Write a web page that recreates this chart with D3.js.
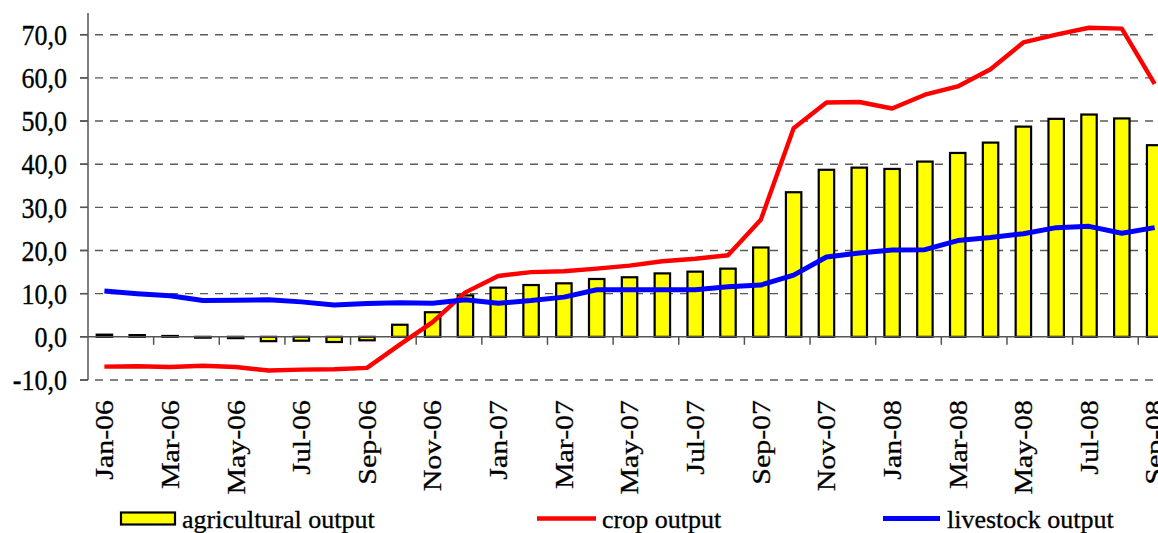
<!DOCTYPE html>
<html>
<head>
<meta charset="utf-8">
<script src="https://cdn.jsdelivr.net/npm/d3@7"></script>
<style>
  body { margin: 0; background: #fff; }
  svg { display: block; }
</style>
</head>
<body>
<svg id="chart" width="1158" height="533" font-family="Liberation Serif"></svg>
<script>
// months Jan-06 .. Sep-08
var months = ['Jan-06','Feb-06','Mar-06','Apr-06','May-06','Jun-06','Jul-06','Aug-06','Sep-06','Oct-06','Nov-06','Dec-06',
  'Jan-07','Feb-07','Mar-07','Apr-07','May-07','Jun-07','Jul-07','Aug-07','Sep-07','Oct-07','Nov-07','Dec-07',
  'Jan-08','Feb-08','Mar-08','Apr-08','May-08','Jun-08','Jul-08','Aug-08','Sep-08'];

var agricultural = [0.5, 0.4, 0.2, -0.2, -0.3, -1.0, -0.9, -1.2, -0.8, 2.8, 5.7, 9.6,
  11.4, 12.0, 12.4, 13.4, 13.8, 14.7, 15.1, 15.8, 20.7, 33.5, 38.7, 39.2,
  38.9, 40.6, 42.6, 45.0, 48.7, 50.5, 51.5, 50.6, 44.4];

var crop = [-6.9, -6.8, -7.0, -6.7, -7.0, -7.8, -7.6, -7.5, -7.2, -1.8, 3.4, 10.3,
  14.1, 15.0, 15.2, 15.8, 16.5, 17.5, 18.1, 18.9, 27.1, 48.3, 54.3, 54.4,
  52.9, 56.1, 58.0, 62.0, 68.2, 70.0, 71.6, 71.4, 58.6];

var livestock = [10.6, 10.0, 9.5, 8.4, 8.5, 8.6, 8.1, 7.4, 7.7, 7.9, 7.8, 8.6,
  7.8, 8.4, 9.2, 10.9, 10.9, 10.9, 10.9, 11.6, 12.0, 14.3, 18.5, 19.4,
  20.1, 20.2, 22.3, 23.0, 23.9, 25.3, 25.6, 24.0, 25.3];

var yTicks = [-10, 0, 10, 20, 30, 40, 50, 60, 70];
var legendLabels = ['agricultural output', 'crop output', 'livestock output'];

var FONT = "'Liberation Serif'";
var svg = d3.select('#chart');
var W = 1158;
var fmt = function(v) { return d3.format('.1f')(v).replace('.', ',').replace('\u2212', '-'); };
var stretch = 1.15;

var x = d3.scaleBand()
  .domain(months)
  .range([88, 88 + 33 * 32.82])
  .paddingInner(0.53)
  .paddingOuter(0.265);

var y = d3.scaleLinear()
  .domain([-10, 75])
  .range([380, 13.1]);

var step = x.step(), bw = x.bandwidth();
var cx = function(m) { return x(m) + bw / 2; };
var boundary = function(m) { return x(m) - step * x.paddingInner() / 2; };

// grid lines
svg.append('g').selectAll('line')
  .data(yTicks.filter(function(t) { return t !== 0; }))
  .enter().append('line')
  .attr('x1', 80).attr('x2', W)
  .attr('y1', function(d) { return y(d); })
  .attr('y2', function(d) { return y(d); })
  .attr('stroke', '#5a5a5a')
  .attr('stroke-width', 1.4)
  .attr('stroke-dasharray', '8,7');

// bars
svg.append('g').selectAll('rect')
  .data(agricultural)
  .enter().append('rect')
  .attr('x', function(d, i) { return x(months[i]); })
  .attr('width', bw)
  .attr('y', function(d) { return d >= 0 ? y(d) : y(0); })
  .attr('height', function(d) { return Math.abs(y(d) - y(0)); })
  .attr('fill', '#ffff00')
  .attr('stroke', '#000')
  .attr('stroke-width', 2.2);

// zero line
svg.append('line')
  .attr('x1', 80).attr('x2', W)
  .attr('y1', y(0)).attr('y2', y(0))
  .attr('stroke', '#555').attr('stroke-width', 1.5);

// y axis line + ticks
svg.append('line')
  .attr('x1', 88).attr('x2', 88)
  .attr('y1', y(75)).attr('y2', y(-10))
  .attr('stroke', '#555').attr('stroke-width', 1.5);
svg.append('g').selectAll('line')
  .data(yTicks)
  .enter().append('line')
  .attr('x1', 80).attr('x2', 88)
  .attr('y1', function(d) { return y(d); })
  .attr('y2', function(d) { return y(d); })
  .attr('stroke', '#555').attr('stroke-width', 1.5);

// x ticks at every second month boundary
svg.append('g').selectAll('line')
  .data(months.filter(function(m, i) { return i > 0 && i % 2 === 0; }))
  .enter().append('line')
  .attr('x1', boundary).attr('x2', boundary)
  .attr('y1', y(0)).attr('y2', y(0) + 8)
  .attr('stroke', '#555').attr('stroke-width', 1.5);

// lines
var line = function(vals) {
  return d3.line()
    .x(function(d, i) { return cx(months[i]); })
    .y(function(d) { return y(d); })(vals);
};
svg.append('path').attr('d', line(crop))
  .attr('fill', 'none').attr('stroke', '#ff0000').attr('stroke-width', 4.4)
  .attr('stroke-linejoin', 'round');
svg.append('path').attr('d', line(livestock))
  .attr('fill', 'none').attr('stroke', '#0000ff').attr('stroke-width', 5)
  .attr('stroke-linejoin', 'round');

// y labels
svg.append('g').selectAll('text')
  .data(yTicks)
  .enter().append('text')
  .attr('transform', function(d) { return 'translate(67,' + y(d) + ') scale(1,' + stretch + ')'; })
  .attr('dy', '0.34em')
  .attr('text-anchor', 'end')
  .attr('fill', '#000')
  .attr('stroke', '#000').attr('stroke-width', 0.3)
  .style('font-family', FONT)
  .style('font-size', '26px')
  .text(fmt);

// x labels
svg.append('g').selectAll('text')
  .data(months.filter(function(m, i) { return i % 2 === 0; }))
  .enter().append('text')
  .attr('transform', function(d) { return 'translate(' + cx(d) + ',400) scale(1,' + stretch + ') rotate(-90)'; })
  .attr('dy', '0.34em')
  .attr('text-anchor', 'end')
  .attr('fill', '#000')
  .attr('stroke', '#000').attr('stroke-width', 0.3)
  .style('font-family', FONT)
  .style('font-size', '26px')
  .text(function(d) { return d; });

// legend
var lg = svg.append('g');
lg.append('rect')
  .attr('x', 121).attr('y', 512.5).attr('width', 54).attr('height', 12)
  .attr('fill', '#ffff00').attr('stroke', '#000').attr('stroke-width', 2.2);
lg.append('line').attr('x1', 537).attr('x2', 596).attr('y1', 518.5).attr('y2', 518.5)
  .attr('stroke', '#ff0000').attr('stroke-width', 4.4);
lg.append('line').attr('x1', 883).attr('x2', 940).attr('y1', 518.5).attr('y2', 518.5)
  .attr('stroke', '#0000ff').attr('stroke-width', 5);
var legendX = [182, 602, 947];
lg.selectAll('text')
  .data(legendLabels)
  .enter().append('text')
  .attr('x', function(d, i) { return legendX[i]; })
  .attr('y', 528)
  .attr('stroke', '#000').attr('stroke-width', 0.3)
  .style('font-family', FONT)
  .style('font-size', '26px')
  .text(function(d) { return d; });
</script>
</body>
</html>
